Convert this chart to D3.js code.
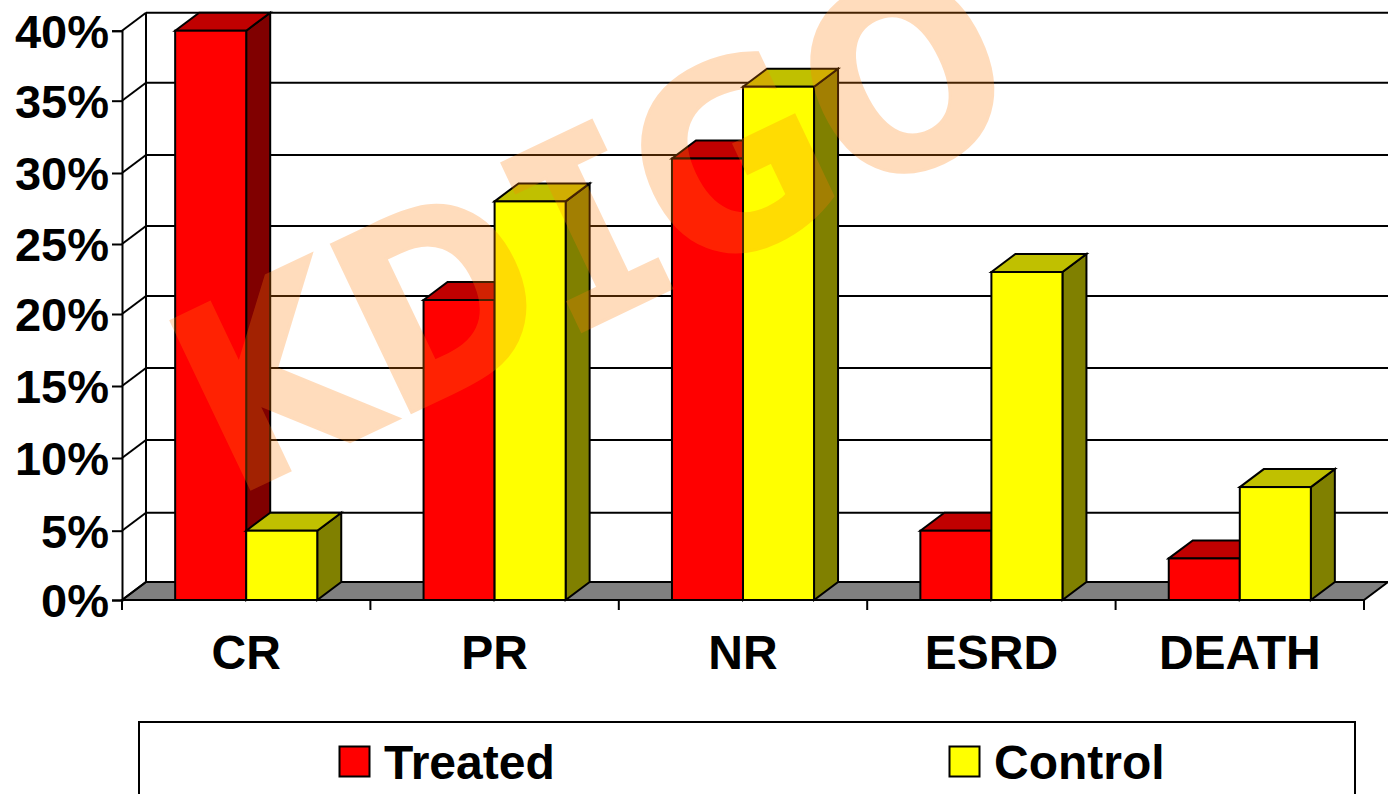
<!DOCTYPE html>
<html>
<head>
<meta charset="utf-8">
<script src="https://cdn.jsdelivr.net/npm/d3@7"></script>
<style>
html,body{margin:0;padding:0;background:#fff;overflow:hidden}
svg{display:block}
text{font-family:"Liberation Sans",Arial,sans-serif;font-weight:700;fill:#000}
</style>
</head>
<body>
<svg id="c" width="1388" height="794"></svg>
<script>
const categories = ["CR","PR","NR","ESRD","DEATH"];
const seriesNames = ["Treated","Control"];
const treated = [40,21,31,5,3];
const control = [5,28,36,23,8];
const yTicks = [0,5,10,15,20,25,30,35,40];
const watermarkLetters = ["K","D","I","G","O"];

const svg = d3.select("#c");
const dx = 24, dy = -18;
const x0 = 122, x1 = 1364, yBase = 600;
const y = d3.scaleLinear().domain(yTicks).range([600,530.7,458,386,314,244,173,100.7,30.7]);
const x = d3.scaleBand().domain(categories).range([x0,x1]).paddingInner(0.428).paddingOuter(0.214);
const xs = d3.scaleBand().domain(seriesNames).range([0,x.bandwidth()]);
const colors = d3.scaleOrdinal().domain(seriesNames).range(["#ff0000","#ffff00"]);
const tops = d3.scaleOrdinal().domain(seriesNames).range(["#c00000","#c0c000"]);
const sides = d3.scaleOrdinal().domain(seriesNames).range(["#800000","#808000"]);
const values = {Treated:treated, Control:control};
const sw = 2;
const pts = a => a.map(p=>p.join(",")).join(" ");

svg.append("polygon")
  .attr("points",pts([[x0,yBase],[x0+dx,yBase+dy],[x1+dx,yBase+dy],[x1,yBase]]))
  .attr("fill","#808080").attr("stroke","#000").attr("stroke-width",sw);

const grid = svg.append("g").attr("stroke","#000").attr("stroke-width",sw);
yTicks.forEach(t=>{
  grid.append("line").attr("x1",x0+dx).attr("x2",x1+dx).attr("y1",y(t)+dy).attr("y2",y(t)+dy);
  grid.append("line").attr("x1",x0).attr("x2",x0+dx).attr("y1",y(t)).attr("y2",y(t)+dy);
});
grid.append("line").attr("x1",x0+dx).attr("x2",x0+dx).attr("y1",y(40)+dy).attr("y2",y(0)+dy);

const yAxis = d3.axisLeft(y).tickValues(yTicks).tickFormat(d=>d+"%").tickSize(10).tickPadding(3);
const gy = svg.append("g").attr("transform",`translate(${x0},0)`).call(yAxis);
gy.selectAll("path,line").attr("stroke","#000").attr("stroke-width",sw);
gy.selectAll("text").style("font-size","47px").attr("dy","0.36em").style("font-family",'"Liberation Sans"');

const xAxis = d3.axisBottom(x).tickSize(0).tickPadding(35);
const gx = svg.append("g").attr("transform",`translate(0,${yBase})`).call(xAxis);
gx.select("path").remove();
gx.selectAll("text").style("font-size","48px").style("font-family",'"Liberation Sans"');
svg.append("line").attr("x1",x0).attr("x2",x1).attr("y1",yBase).attr("y2",yBase).attr("stroke","#000").attr("stroke-width",sw);
d3.range(categories.length+1).forEach(i=>{
  const px = x0 + i*x.step();
  svg.append("line").attr("x1",px).attr("x2",px).attr("y1",yBase).attr("y2",yBase+10).attr("stroke","#000").attr("stroke-width",sw);
});

const bars = svg.append("g").attr("stroke","#000").attr("stroke-width",sw).attr("stroke-linejoin","miter");
categories.forEach((c,i)=>{
  seriesNames.forEach(s=>{
    const v = values[s][i];
    const L = x(c)+xs(s), R = L+xs.bandwidth(), T = y(v), B = y(0);
    bars.append("polygon").attr("points",pts([[R,T],[R+dx,T+dy],[R+dx,B+dy],[R,B]])).attr("fill",sides(s));
    bars.append("polygon").attr("points",pts([[L,T],[L+dx,T+dy],[R+dx,T+dy],[R,T]])).attr("fill",tops(s));
    bars.append("rect").attr("x",L).attr("y",T).attr("width",R-L).attr("height",B-T).attr("fill",colors(s));
  });
});

svg.append("rect").attr("x",139).attr("y",722).attr("width",1216).attr("height",120)
  .attr("fill","#fff").attr("stroke","#000").attr("stroke-width",sw);
const legendX = d3.scaleOrdinal().domain(seriesNames).range([339,949]);
seriesNames.forEach(s=>{
  svg.append("rect").attr("x",legendX(s)+0.5).attr("y",746.5).attr("width",30).attr("height",30)
    .attr("fill",colors(s)).attr("stroke","#000").attr("stroke-width",sw);
  svg.append("text").attr("x",legendX(s)+45).attr("y",779).style("font-size","48px").text(s);
});

// watermark: slab "I" comes from the mono face
const wm = svg.append("text")
  .attr("transform","translate(232,498) rotate(-25.5) scale(0.9,1)")
  .attr("opacity",0.27)
  .style("font-size","255px")
  .style("font-family",'"DejaVu Sans"')
  .style("fill","#ff7f0a")
  .style("stroke","#ff7f0a")
  .style("stroke-width","3px");
watermarkLetters.forEach(l=>{
  wm.append("tspan")
    .style("font-family", l==="I" ? '"DejaVu Sans Mono"' : '"DejaVu Sans"')
    .attr("dx", l==="G" ? -6 : null)
    .text(l);
});
</script>
</body>
</html>
